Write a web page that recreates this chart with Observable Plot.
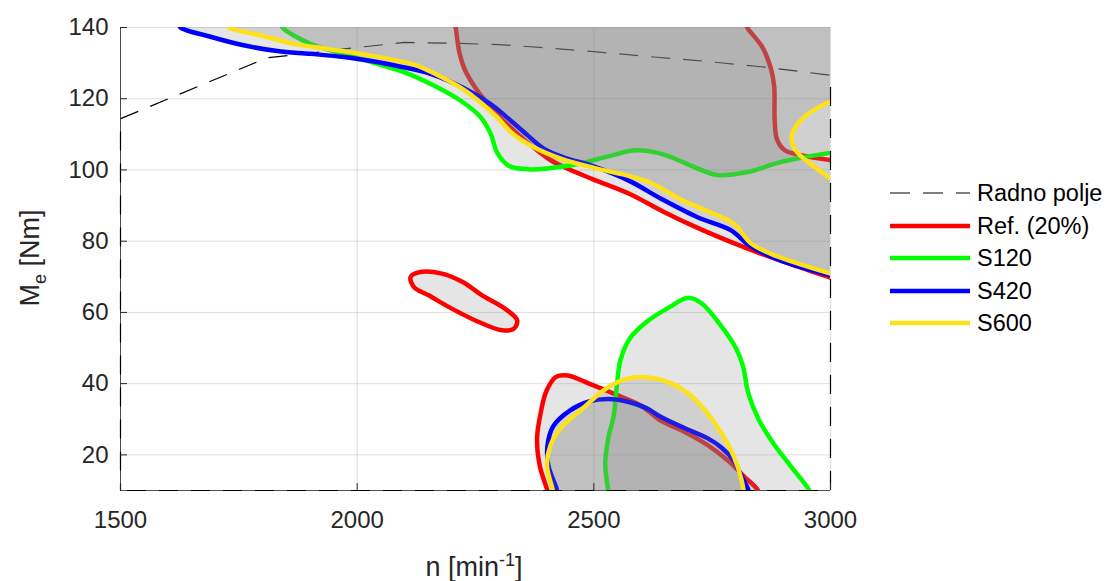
<!DOCTYPE html>
<html>
<head>
<meta charset="utf-8">
<script src="https://cdn.jsdelivr.net/npm/d3@7"></script>
<script src="https://cdn.jsdelivr.net/npm/@observablehq/plot@0.6"></script>
<style>
  html, body { margin: 0; padding: 0; background: #fff; }
  #chart { position: relative; width: 1106px; height: 581px; }
</style>
</head>
<body>
<div id="chart"></div>
<script>
// ---------- data (n [min^-1], M_e [Nm]) ----------
const xTicks = [1500, 2000, 2500, 3000];
const yTicks = [20, 40, 60, 80, 100, 120, 140];
const xDomain = [1500, 3000];
const yDomain = [10, 140];

const seriesNames = ["Radno polje", "Ref. (20%)", "S120", "S420", "S600"];
const seriesColors = ["#000000", "#ff0000", "#00ff00", "#0000ff", "#ffe11a"];

// working field boundary (dashed)
const radnoPolje = [[1500,10],[1500,114.4],[1810,131.5],[1900,132.8],[2000,134.4],[2100,135.8],[2200,135.6],[2300,135.2],[2400,134.3],[2500,133.2],[2620,131.8],[2720,130.7],[2860,128.9],[3000,126.6],[3000,10],[1500,10]];

// Ref. (20%)
const refUpperLeft = [[2206,141],[2208,140],[2216,133],[2228,128],[2250,123],[2270,119.5],[2303,114.6],[2340,110],[2373,106.3],[2408,102.8],[2440,100.6],[2500,97.3],[2577,93.2],[2648,88.2],[2718,83.8],[2789,79.8],[2859,76.2],[2930,72.9],[3000,69.8]];
const refUpperRight = [[2822,141],[2824,140],[2856,134.5],[2874,128.5],[2881,123.5],[2882,114],[2887,108.6],[2903,105.6],[2935,104.2],[3000,102.8]];
const refBottom = [[2403,9],[2401,10.3],[2386,16.8],[2380,24.5],[2388,32],[2400,38],[2420,41.9],[2445,42.3],[2490,40],[2542,37.2],[2600,33.8],[2641,29.6],[2690,26.6],[2740,22.8],[2785,18.2],[2817,14],[2845,10.4],[2850,9]];
const refIsland = [[2113,70],[2137,71.4],[2179,70.9],[2222,68.6],[2264,64.8],[2313,61],[2338,57.8],[2331,55.4],[2306,55],[2257,57.3],[2201,61],[2151,64.8],[2120,67.1]];

// S120
const s120Top = [[1840,141],[1842,140],[1901,135.4],[1972,132.6],[2042,129.8],[2100,127.4],[2162,123.7],[2218,119.5],[2261,114.8],[2282,110.2],[2296,104.8],[2320,101.2],[2360,100.2],[2401,100.4],[2472,101.8],[2530,103.8],[2590,105.5],[2648,104.3],[2700,101.5],[2760,98.6],[2824,99.4],[2894,102.2],[2944,103.6],[3000,104.8]];
const s120Bottom = [[2531,9],[2530,10.2],[2524,17.5],[2531,25],[2542,31],[2549,40],[2556,46.5],[2575,52.5],[2613,57.5],[2660,61.5],[2699,64.1],[2728,62.5],[2770,56],[2800,50],[2815,45],[2826,37.5],[2848,30],[2878,23.5],[2915,17],[2954,10.2],[2956,9]];

// S420
const s420Top = [[1624,141],[1627,140],[1690,137.4],[1760,135],[1831,133.4],[1901,132.6],[1972,131.7],[2042,130.3],[2092,129],[2155,127],[2225,123],[2282,118.5],[2324,113.9],[2362,109.5],[2394,106],[2437,103.5],[2500,101],[2577,96.8],[2641,92],[2718,86.8],[2789,83.1],[2831,78.6],[2894,74.6],[3000,70.4]];
const s420Bottom = [[2423,9],[2422,10.2],[2404,17],[2402,22.5],[2414,28],[2450,32.5],[2490,35],[2530,35.7],[2570,35],[2610,33.2],[2641,30.7],[2690,27.6],[2740,24.7],[2770,22],[2795,18.5],[2812,14],[2826,10.3],[2828,9]];

// S600
const s600Top = [[1727,141],[1729,140],[1796,137.8],[1866,135.4],[1937,134],[2007,132.6],[2077,130.9],[2120,129.6],[2160,127.3],[2228,122.3],[2290,115.5],[2330,110],[2370,106.6],[2430,103.2],[2500,100.6],[2577,98.2],[2620,96.4],[2683,91.8],[2753,87.7],[2796,84.9],[2831,79.5],[2873,76.5],[3000,70.9]];
const s600Bump = [[3005,120],[3000,119.3],[2975,117.6],[2951,115.6],[2930,112.8],[2918,109.5],[2922,106.5],[2935,104.2],[2960,101.5],[2985,99],[3000,97.5]];
const s600Bottom = [[2414,9],[2413,10.2],[2401,17],[2408,22.5],[2430,27.5],[2472,32.5],[2528,38.8],[2570,41.4],[2610,41.8],[2660,40.3],[2700,37.2],[2735,32.5],[2770,26],[2796,19.5],[2812,13],[2816,10],[2816,9]];

// ---------- regions built from the curves ----------
const rev = a => a.slice().reverse();
const refUpperRegion = [...refUpperLeft, ...rev(refUpperRight)];
const s120TopRegion = [...s120Top, [3000, 141]];
const s420TopRegion = [...s420Top, [3000, 141]];
const s600TopRegion = [...s600Top, ...rev(s600Bump), [3000, 141]];

const FILL = "#838383", FILL_OP = 0.21, LW = 4.5;
const xy = {x: d => d[0], y: d => d[1]};
const fillMark = (pts, curve = "linear-closed") =>
  Plot.line(pts, {...xy, fill: FILL, fillOpacity: FILL_OP, stroke: "none", curve, clip: true});
const lineMark = (pts, color, curve = "catmull-rom") =>
  Plot.line(pts, {...xy, stroke: color, strokeWidth: LW, strokeLinecap: "butt", strokeLinejoin: "round", curve, clip: true});

const W = 1106, H = 581, mL = 120, mR = 276, mT = 27, mB = 91;
const frameW = W - mL - mR, frameH = H - mT - mB;
const FONT = "'Liberation Sans', Arial, Helvetica, sans-serif";
const TICK_FS = 24, LABEL_FS = 27, LEGEND_FS = 23.5;

const plot = Plot.plot({
  width: W, height: H,
  marginLeft: mL, marginRight: mR, marginTop: mT, marginBottom: mB,
  x: {domain: xDomain},
  y: {domain: yDomain},
  style: {fontFamily: FONT, color: "#262626", background: "#fff", overflow: "visible"},
  marks: [
    // grid
    Plot.ruleX(xTicks, {x: d => d, stroke: "#262626", strokeOpacity: 0.15}),
    Plot.ruleY(yTicks, {y: d => d, stroke: "#262626", strokeOpacity: 0.15}),
    // axis lines
    Plot.ruleX([xDomain[0]], {x: d => d, stroke: "#262626", strokeWidth: 0.8}),
    Plot.ruleY([yDomain[0]], {y: d => d, stroke: "#262626", strokeWidth: 0.8}),
    // working field
    Plot.line(radnoPolje, {...xy, stroke: "#000", strokeWidth: 1.2, strokeDasharray: "19,13", strokeDashoffset: 12, strokeLinecap: "butt", curve: "linear"}),
    // Ref.
    fillMark(refUpperRegion), fillMark(refBottom), fillMark(refIsland, "catmull-rom-closed"),
    lineMark(refUpperLeft, seriesColors[1]), lineMark(refUpperRight, seriesColors[1]),
    lineMark(refBottom, seriesColors[1]), lineMark(refIsland, seriesColors[1], "catmull-rom-closed"),
    // S120
    fillMark(s120TopRegion), fillMark(s120Bottom),
    lineMark(s120Top, seriesColors[2]), lineMark(s120Bottom, seriesColors[2]),
    // S420
    fillMark(s420TopRegion), fillMark(s420Bottom),
    lineMark(s420Top, seriesColors[3]), lineMark(s420Bottom, seriesColors[3]),
    // S600
    fillMark(s600TopRegion), fillMark(s600Bottom),
    lineMark(s600Top, seriesColors[4]), lineMark(s600Bump, seriesColors[4]), lineMark(s600Bottom, seriesColors[4]),
    // inward ticks
    Plot.tickX(xTicks, {x: d => d, stroke: "#262626", insetTop: frameH - 7}),
    Plot.tickY(yTicks, {y: d => d, stroke: "#262626", insetRight: frameW - 7}),
    // tick labels
    Plot.axisX({ticks: xTicks, tickSize: 0, tickPadding: 20, fontSize: TICK_FS, tickFormat: d => String(d), label: null}),
    Plot.axisY({ticks: yTicks, tickSize: 0, tickPadding: 12, fontSize: TICK_FS, tickFormat: d => String(d), label: null})
  ]
});
document.getElementById("chart").appendChild(plot);

// ---------- axis titles and legend ----------
const svg = d3.select(plot);
const xl = svg.append("text").attr("x", 474).attr("y", 576).attr("text-anchor", "middle")
  .attr("font-family", FONT).attr("font-size", LABEL_FS).attr("fill", "#262626");
xl.append("tspan").text("n [min");
xl.append("tspan").attr("dy", -10).attr("font-size", 18).text("-1");
xl.append("tspan").attr("dy", 10).text("]");

const yl = svg.append("text").attr("transform", "translate(39,258) rotate(-90)").attr("text-anchor", "middle")
  .attr("font-family", FONT).attr("font-size", LABEL_FS).attr("fill", "#262626");
yl.append("tspan").text("M");
yl.append("tspan").attr("dy", 7).attr("font-size", 18).text("e");
yl.append("tspan").attr("dy", -7).text(" [Nm]");

const legend = svg.append("g");
const rowY = [193, 226, 258, 291, 323];
seriesNames.forEach((name, i) => {
  legend.append("line").attr("x1", 890).attr("x2", 970).attr("y1", rowY[i]).attr("y2", rowY[i])
    .attr("stroke", seriesColors[i]).attr("stroke-width", i === 0 ? 1.2 : LW)
    .attr("stroke-dasharray", i === 0 ? "20,13" : null);
  legend.append("text").attr("x", 977).attr("y", rowY[i]).attr("dy", "0.35em")
    .attr("text-anchor", "start")
    .attr("font-family", FONT).attr("font-size", LEGEND_FS).attr("fill", "#000").text(name);
});
</script>
</body>
</html>
